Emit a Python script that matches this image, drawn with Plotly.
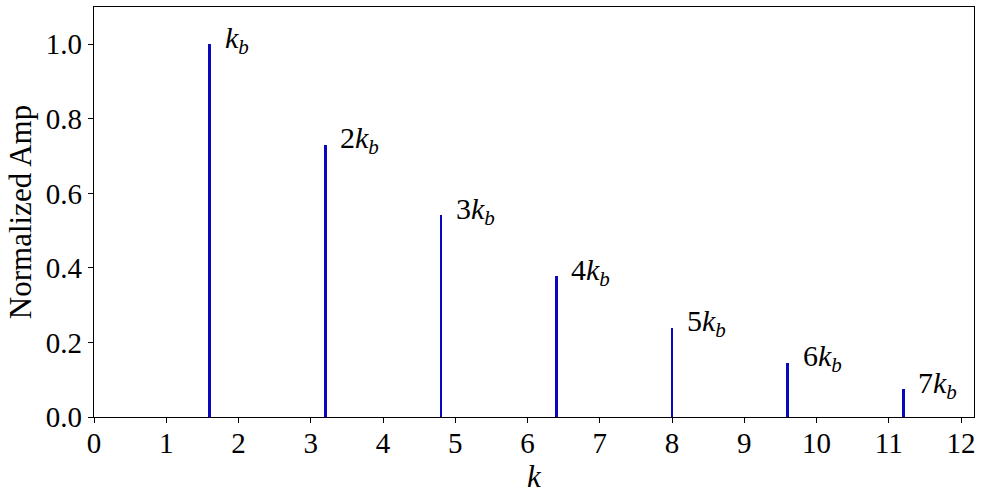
import plotly.graph_objects as go

harmonic_k = [1.6, 3.2, 4.8, 6.4, 8.0, 9.6, 11.2]
norm_amp = [1.0, 0.730, 0.542, 0.377, 0.240, 0.146, 0.075]
labels = ["<i>k</i><sub><i>b</i></sub>"] + [f"{n}<i>k</i><sub><i>b</i></sub>" for n in range(2, 8)]
x_ticks = list(range(0, 13))
y_ticks = [0.0, 0.2, 0.4, 0.6, 0.8, 1.0]

FONT = "Liberation Serif, serif"

fig = go.Figure()
fig.add_trace(go.Bar(x=harmonic_k, y=norm_amp, width=0.036,
                     marker=dict(color="#0808c0", line=dict(width=0)),
                     showlegend=False))

for xk, yv, lab in zip(harmonic_k, norm_amp, labels):
    fig.add_annotation(x=xk + 0.18, y=yv + 0.012, text=lab, showarrow=False,
                       xanchor="left", yanchor="middle",
                       font=dict(family=FONT, size=30, color="black"))

fig.update_layout(
    width=982, height=494,
    margin=dict(l=94, r=8, t=7, b=77, autoexpand=False),
    plot_bgcolor="white", paper_bgcolor="white",
    font=dict(family=FONT, size=29, color="black"),
    bargap=0,
)
fig.update_xaxes(range=[0, 12.18], tickvals=x_ticks, ticktext=[str(t) for t in x_ticks],
                 ticks="outside", ticklen=5, tickwidth=1, tickcolor="black",
                 showline=True, linecolor="black", linewidth=1.2, mirror=True,
                 showgrid=False, zeroline=False, automargin=False,
                 tickfont=dict(family=FONT, size=29), ticklabelstandoff=-5,
                 title=dict(text="<i>k</i>", font=dict(family=FONT, size=31), standoff=2))
fig.update_yaxes(range=[0, 1.1], tickvals=y_ticks, ticktext=[f"{t:.1f}" for t in y_ticks],
                 ticks="outside", ticklen=5, tickwidth=1, tickcolor="black",
                 showline=True, linecolor="black", linewidth=1.2, mirror=True,
                 showgrid=False, zeroline=False, automargin=False,
                 tickfont=dict(family=FONT, size=29),
                 title=dict(text="Normalized Amp", font=dict(family=FONT, size=31), standoff=4))

fig.write_html("out.html", config={"displayModeBar": False},
               post_script="document.body.style.margin='0';document.body.style.overflow='hidden';")
